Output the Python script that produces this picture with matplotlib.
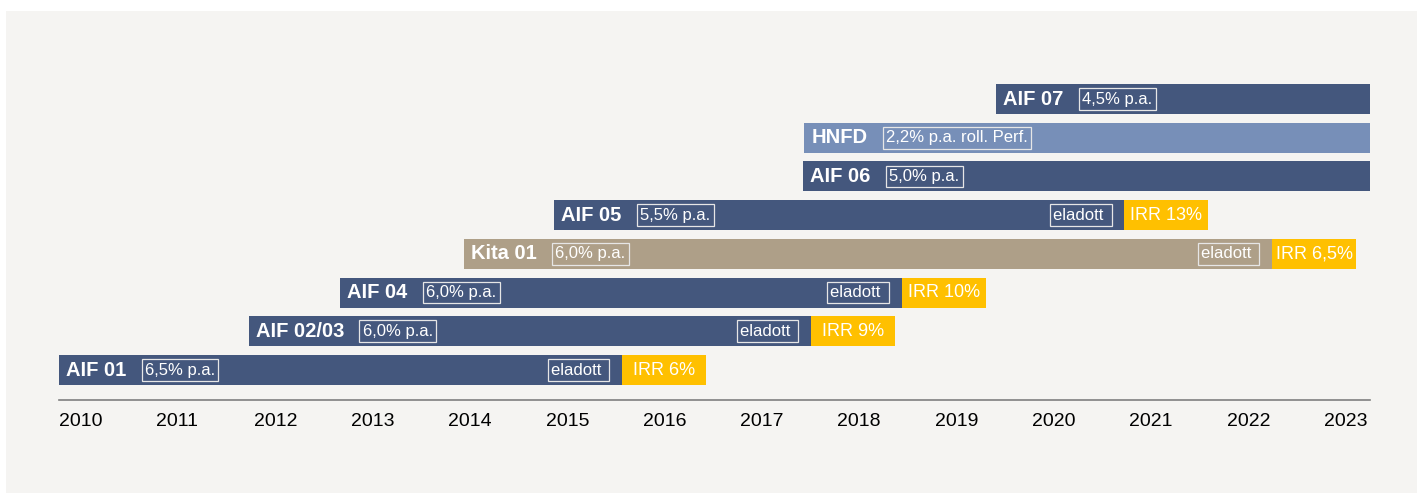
import matplotlib
matplotlib.use('Agg')
import matplotlib.pyplot as plt
from matplotlib.patches import Rectangle
import numpy as np

plt.rcParams['font.family'] = ['Liberation Sans', 'DejaVu Sans']

# fund data (bottom row first)
funds = ['AIF 01', 'AIF 02/03', 'AIF 04', 'Kita 01', 'AIF 05', 'AIF 06', 'HNFD', 'AIF 07']
rates = ['6,5% p.a.', '6,0% p.a.', '6,0% p.a.', '6,0% p.a.', '5,5% p.a.',
         '5,0% p.a.', '2,2% p.a. roll. Perf.', '4,5% p.a.']
start = [2010.0, 2011.95, 2012.89, 2014.16, 2015.09, 2017.65, 2017.66, 2019.63]
end = [2015.79, 2017.73, 2018.66, 2022.47, 2020.95, 2023.47, 2023.47, 2023.47]
sold = [True, True, True, True, True, False, False, False]
irr = ['IRR 6%', 'IRR 9%', 'IRR 10%', 'IRR 6,5%', 'IRR 13%', None, None, None]
years = list(range(2010, 2024))

NAVY = '#44577d'
colors = [NAVY, NAVY, NAVY, '#ae9f88', NAVY, NAVY, '#778fb8', NAVY]
YELLOW = '#ffc000'
BG = '#f5f4f2'
irr_w = 0.863
bar_h = 0.775

fig = plt.figure(figsize=(14.17, 4.93), dpi=100)
fig.patch.set_facecolor('white')
fig.patches.append(Rectangle((6 / 1417, 0), 1 - 6 / 1417, (493 - 11) / 493,
                             transform=fig.transFigure, facecolor=BG,
                             edgecolor='none', zorder=-10))

ax = fig.add_axes([59 / 1417, (493 - 400) / 493, (1370 - 59) / 1417, (400 - 60) / 493])
ax.set_facecolor('none')

box = dict(boxstyle='square,pad=0.2', fc='none', ec='#e6e6e6', lw=0.9)

rows = np.arange(len(funds))
for i in rows:
    ax.barh(i, end[i] - start[i], left=start[i], height=bar_h,
            color=colors[i], edgecolor='none')
    name = ax.annotate(funds[i], xy=(start[i], i), xytext=(5, 0),
                       textcoords='offset points', va='center', ha='left',
                       fontsize=14.5, fontweight='bold', color='white')
    ax.annotate(rates[i], xy=(1, 0.5), xycoords=name, xytext=(13.5, 0),
                textcoords='offset points', va='center', ha='left',
                fontsize=12, color='white', bbox=box)
    if sold[i]:
        ax.annotate('eladott ', xy=(end[i], i), xytext=(-11.7, 0),
                    textcoords='offset points', va='center', ha='right',
                    fontsize=12, color='white', bbox=box)
        ax.barh(i, irr_w, left=end[i], height=bar_h, color=YELLOW,
                edgecolor='none')
        ax.text(end[i] + irr_w / 2, i, irr[i], ha='center', va='center',
                fontsize=13, color='white')

ax.set_xlim(2010, 2023.473)
ax.set_ylim(-0.775, 8.01)
ax.set_yticks([])
ax.set_xticks(years)
ax.set_xticklabels([str(y) for y in years], ha='left', fontsize=14)
ax.tick_params(axis='x', length=0, pad=9)
for s in ['top', 'right', 'left']:
    ax.spines[s].set_visible(False)
ax.spines['bottom'].set_color('#7f7f7f')
ax.spines['bottom'].set_linewidth(1.2)

fig.savefig('out.png', dpi=100, facecolor=fig.get_facecolor())
